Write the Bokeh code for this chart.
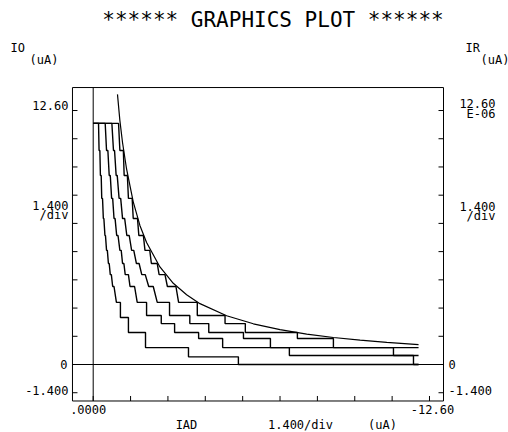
from bokeh.plotting import figure
from bokeh.models import Range1d, Label
from bokeh.embed import file_html
from bokeh.resources import INLINE

# ---- data (IAD in uA, negative; IO in uA) ----
y_ticks = [-1.4, 0.0, 1.4, 2.8, 4.2, 5.6, 7.0, 8.4, 9.8, 11.2, 12.6]
x_ticks = [0.0, -1.4, -2.8, -4.2, -5.6, -7.0, -8.4, -9.8, -11.2, -12.6]

env_x = [-0.91, -1.0, -1.1, -1.25, -1.5, -1.75, -2.0, -2.5, -3.0, -3.5, -4.0, -5.0, -6.0, -7.0, -8.0, -9.0, -10.0, -11.0, -12.19]
env_y = [13.4, 12.1, 11.0, 9.7, 8.07, 6.9, 6.05, 4.84, 4.03, 3.46, 3.02, 2.42, 2.02, 1.73, 1.51, 1.34, 1.21, 1.10, 0.99]

s1_x = [0, -0.20, -0.22, -0.25, -0.27, -0.30, -0.32, -0.35, -0.38, -0.40, -0.44, -0.46, -0.50, -0.53,
        -0.57, -0.60, -0.64, -0.68, -0.73, -0.78, -0.87, -1.02, -1.02, -1.32, -1.32, -1.96, -1.96,
        -3.57, -3.57, -5.44, -5.44, -12.19]
s1_y = [11.96, 11.96, 10.62, 10.62, 9.38, 9.38, 8.24, 8.24, 7.24, 7.24, 6.40, 6.40, 5.66, 5.66,
        5.01, 5.01, 4.46, 4.46, 3.87, 3.87, 3.08, 3.08, 2.33, 2.33, 1.59, 1.59, 0.84,
        0.84, 0.38, 0.38, 0.0, 0.0]

s2_x = [0, -0.45, -0.50, -0.55, -0.60, -0.64, -0.69, -0.73, -0.78, -0.82, -0.88, -0.93, -1.00, -1.05,
        -1.10, -1.15, -1.20, -1.32, -1.38, -1.55, -1.65, -2.00, -2.00, -2.55, -2.55, -3.05, -3.05,
        -3.95, -3.95, -4.85, -4.85, -7.35, -7.35, -12.0, -12.0, -12.19]
s2_y = [11.96, 11.96, 10.62, 10.62, 9.38, 9.38, 8.24, 8.24, 7.24, 7.24, 6.40, 6.40, 5.66, 5.66,
        5.01, 5.01, 4.46, 4.46, 3.87, 3.87, 3.08, 3.08, 2.43, 2.43, 2.03, 2.03, 1.59,
        1.59, 1.29, 1.29, 0.84, 0.84, 0.45, 0.45, 0.0, 0.0]

s3_x = [0, -0.70, -0.76, -0.80, -0.86, -0.90, -0.97, -1.03, -1.10, -1.18, -1.26, -1.35, -1.44, -1.52,
        -1.62, -1.72, -1.82, -1.95, -2.08, -2.25, -2.40, -2.86, -2.86, -3.62, -3.62, -4.33, -4.33,
        -5.63, -5.63, -6.64, -6.64, -11.25, -11.25, -12.19]
s3_y = [11.96, 11.96, 10.62, 10.62, 9.38, 9.38, 8.24, 8.24, 7.24, 7.24, 6.40, 6.40, 5.66, 5.66,
        5.01, 5.01, 4.46, 4.46, 3.87, 3.87, 3.08, 3.08, 2.43, 2.43, 2.03, 2.03, 1.59,
        1.59, 1.29, 1.29, 0.84, 0.84, 0.45, 0.45]

s4_x = [0, -0.95, -1.00, -1.13, -1.16, -1.28, -1.32, -1.46, -1.50, -1.66, -1.71, -1.88, -1.94, -2.12,
        -2.18, -2.40, -2.47, -2.69, -2.78, -3.10, -3.20, -3.90, -3.90, -4.94, -4.94, -5.70, -5.70,
        -7.65, -7.65, -9.0, -9.0, -12.19]
s4_y = [11.96, 11.96, 10.62, 10.62, 9.38, 9.38, 8.24, 8.24, 7.24, 7.24, 6.40, 6.40, 5.66, 5.66,
        5.01, 5.01, 4.46, 4.46, 3.87, 3.87, 3.08, 3.08, 2.43, 2.43, 2.03, 2.03, 1.59,
        1.59, 1.29, 1.29, 0.84, 0.84]

FONT = "DejaVu Sans Mono"
W, H = 508, 432

# plotting box (data coordinates of the drawn frame)
BOX_L, BOX_R, BOX_B, BOX_T = 0.776, -13.125, -1.81, 13.74

p = figure(width=W, height=H, output_backend="svg", toolbar_location=None,
           x_range=Range1d(3.473, -15.56), y_range=Range1d(-3.373, 18.058),
           x_axis_location=None, y_axis_location=None, min_border=0)
p.background_fill_color = "white"
p.border_fill_color = "white"
p.outline_line_color = None
p.xgrid.visible = False
p.ygrid.visible = False

# pixel-per-unit factors from the scales
ppx = W / (p.x_range.start - p.x_range.end)
ppy = H / (p.y_range.end - p.y_range.start)
TL = 5  # tick length px

# frame box
p.quad(left=[BOX_L], right=[BOX_R], bottom=[BOX_B], top=[BOX_T],
       fill_color=None, line_color="black", line_width=1)

# ticks (inward)
p.segment(x0=[BOX_L] * len(y_ticks), y0=y_ticks, x1=[BOX_L - TL / ppx] * len(y_ticks), y1=y_ticks,
          line_color="black", line_width=1)
p.segment(x0=[BOX_R] * len(y_ticks), y0=y_ticks, x1=[BOX_R + TL / ppx] * len(y_ticks), y1=y_ticks,
          line_color="black", line_width=1)
p.segment(x0=x_ticks, y0=[BOX_B] * len(x_ticks), x1=x_ticks, y1=[BOX_B + TL / ppy] * len(x_ticks),
          line_color="black", line_width=1)

# zero lines
p.segment(x0=[BOX_L], y0=[0], x1=[BOX_R], y1=[0], line_color="black", line_width=1.2)
p.segment(x0=[0], y0=[BOX_B], x1=[0], y1=[BOX_T], line_color="black", line_width=1)

for xs, ys in [(s1_x, s1_y), (s2_x, s2_y), (s3_x, s3_y), (s4_x, s4_y)]:
    p.line(xs, ys, line_color="black", line_width=1.4)
p.line(env_x, env_y, line_color="black", line_width=1.2)

xmid = (BOX_L + BOX_R) / 2

def lab(text, x, y, xo, yo, align, size="12px"):
    p.add_layout(Label(x=x, y=y, x_offset=xo, y_offset=yo, text=text,
                       text_font=FONT, text_font_size=size, text_color="black",
                       text_align=align, text_baseline="middle"))

lab("****** GRAPHICS PLOT ******", xmid, BOX_T, 15, 68, "center", "21px")
lab("IO", BOX_L, BOX_T, -62, 40, "left")
lab("(uA)", BOX_L, BOX_T, -43, 28, "left")
lab("IR", BOX_R, BOX_T, 22, 40, "left")
lab("(uA)", BOX_R, BOX_T, 37, 28, "left")

lab("12.60", BOX_L, 12.6, -4, 5, "right")
lab("1.400", BOX_L, 8.4, -4, -10, "right")
lab("/div", BOX_L, 8.4, -4, -20, "right")
lab("0", BOX_L, 0.0, -5, 0, "right")
lab("-1.400", BOX_L, -1.4, -4, 2, "right")

lab("12.60", BOX_R, 12.6, 52, 7, "right")
lab("E-06", BOX_R, 12.6, 52, -3, "right")
lab("1.400", BOX_R, 8.4, 52, -11, "right")
lab("/div", BOX_R, 8.4, 52, -21, "right")
lab("0", BOX_R, 0.0, 5, 0, "left")
lab("-1.400", BOX_R, -1.4, 5, 2, "left")

lab(".0000", 0.0, BOX_B, -5, -9, "center")
lab("-12.60", -12.6, BOX_B, 3, -9, "center")
lab("IAD", BOX_L, BOX_B, 114, -24, "center")
lab("1.400/div", BOX_L, BOX_B, 228, -24, "center")
lab("(uA)", BOX_L, BOX_B, 310, -24, "center")

open("out.html", "w").write(file_html(p, INLINE))
